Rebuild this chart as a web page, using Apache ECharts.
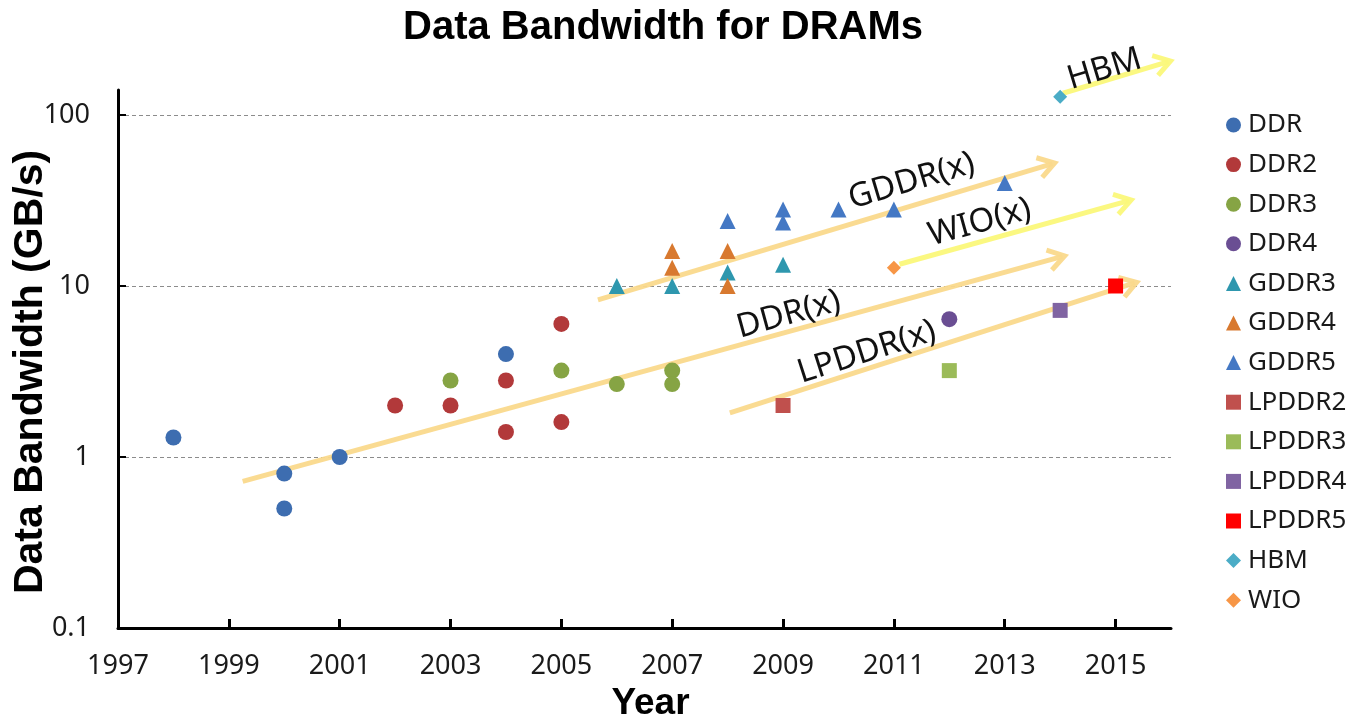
<!DOCTYPE html>
<html>
<head>
<meta charset="utf-8">
<title>Data Bandwidth for DRAMs</title>
<script src="https://cdn.jsdelivr.net/npm/echarts@6/dist/echarts.min.js"></script>
<style>
  html, body { margin: 0; padding: 0; background: #fff; }
  #chart { width: 1361px; height: 723px; }
</style>
</head>
<body>
<div id="chart"></div>
<script>
// Memory generations and their peak data bandwidth (GB/s) by year
const seriesNames = ['DDR', 'DDR2', 'DDR3', 'DDR4', 'GDDR3', 'GDDR4', 'GDDR5',
  'LPDDR2', 'LPDDR3', 'LPDDR4', 'LPDDR5', 'HBM', 'WIO'];

const ddr    = [[1998, 1.3], [2000, 0.8], [2000, 0.5], [2001, 1.0], [2004, 4.0]];
const ddr2   = [[2002, 2.0], [2003, 2.0], [2004, 2.8], [2004, 1.4], [2005, 6.0], [2005, 1.6]];
const ddr3   = [[2003, 2.8], [2005, 3.2], [2006, 2.67], [2007, 3.2], [2007, 2.67]];
const ddr4   = [[2012, 6.4]];
const gddr3  = [[2006, 10], [2007, 10], [2008, 12], [2009, 13.3]];
const gddr4  = [[2007, 16], [2007, 12.8], [2008, 16], [2008, 10]];
const gddr5  = [[2008, 24], [2009, 28], [2009, 23.5], [2010, 28], [2011, 28], [2013, 40]];
const lpddr2 = [[2009, 2.0]];
const lpddr3 = [[2012, 3.2]];
const lpddr4 = [[2014, 7.2]];
const lpddr5 = [[2015, 10]];
const hbm    = [[2014, 128]];
const wio    = [[2011, 12.8]];

// Trend arrows: name, start [year, GB/s], end [year, GB/s], label anchor [year, GB/s]
const trendNames  = ['DDR(x)', 'GDDR(x)', 'WIO(x)', 'LPDDR(x)', 'HBM'];
const trendStart  = [[1999.25, 0.72], [2005.66, 8.3], [2011.1, 13.4], [2008.04, 1.81], [2014.05, 134]];
const trendEnd    = [[2014.08, 15.0], [2013.9, 52.4], [2015.28, 31.8], [2015.38, 10.5], [2015.99, 207]];
const trendLabel  = [[2009.1, 6.8], [2011.32, 41], [2012.55, 23.5], [2010.51, 4.1], [2014.8, 185]];

// Axis tick labels
const xTickYears  = [1997, 1999, 2001, 2003, 2005, 2007, 2009, 2011, 2013, 2015];
const yTickValues = [0.1, 1, 10, 100];

// Appearance
const seriesValues = [ddr, ddr2, ddr3, ddr4, gddr3, gddr4, gddr5, lpddr2, lpddr3, lpddr4, lpddr5, hbm, wio];
const seriesColors = ['#3D6DB0', '#B2393A', '#86A444', '#6A4E93', '#2E97AE', '#D8792F', '#4478C4',
  '#C0504D', '#9BBB59', '#8064A2', '#FF0000', '#4BACC6', '#F79646'];
const seriesSymbols = ['circle', 'circle', 'circle', 'circle', 'triangle', 'triangle', 'triangle',
  'rect', 'rect', 'rect', 'rect', 'diamond', 'diamond'];
const symbolSizes = { circle: 16, triangle: 16, rect: 15, diamond: 14 };
const arrowColors = { 'DDR(x)': '#FAD98C', 'GDDR(x)': '#FAD98C', 'LPDDR(x)': '#FAD98C', 'WIO(x)': '#FBF87A', 'HBM': '#FBF87A' };

const textFont = '"Noto Sans", "Open Sans", sans-serif';
const boldFont = '"Liberation Sans", Arial, sans-serif';

const scatterSeries = seriesNames.map((name, i) => ({
  name,
  type: 'scatter',
  symbol: seriesSymbols[i],
  symbolSize: symbolSizes[seriesSymbols[i]],
  itemStyle: { color: seriesColors[i], opacity: 1 },
  data: seriesValues[i],
  z: 5
}));

const trendData = trendNames.map((n, i) => ({
  name: n,
  value: [trendStart[i][0], trendStart[i][1], trendEnd[i][0], trendEnd[i][1], trendLabel[i][0], trendLabel[i][1]]
}));

const trendSeries = {
  type: 'custom',
  name: 'trends',
  clip: false,
  silent: true,
  z: 2,
  encode: { x: [0, 2, 4], y: [1, 3, 5] },
  data: trendData,
  renderItem(params, api) {
    const name = trendNames[params.dataIndex];
    const color = arrowColors[name];
    const p1 = api.coord([api.value(0), api.value(1)]);
    const p2 = api.coord([api.value(2), api.value(3)]);
    const lp = api.coord([api.value(4), api.value(5)]);
    const ang = Math.atan2(p2[1] - p1[1], p2[0] - p1[0]);
    const head = 19, spread = Math.PI / 5.5;
    const h1 = [p2[0] - head * Math.cos(ang - spread), p2[1] - head * Math.sin(ang - spread)];
    const h2 = [p2[0] - head * Math.cos(ang + spread), p2[1] - head * Math.sin(ang + spread)];
    const tip = [p2[0] - 2 * Math.cos(ang), p2[1] - 2 * Math.sin(ang)];
    return {
      type: 'group',
      children: [
        { type: 'polyline', shape: { points: [p1, tip] },
          style: { stroke: color, lineWidth: 5, fill: null, opacity: 0.95 } },
        { type: 'polyline', shape: { points: [h1, p2, h2] },
          style: { stroke: color, lineWidth: 5, fill: null, lineJoin: 'miter', opacity: 0.95 } },
        { type: 'text', x: lp[0], y: lp[1], rotation: -ang,
          style: { text: name, font: '33px ' + textFont, fill: '#111',
                   align: 'center', verticalAlign: 'middle' } }
      ]
    };
  }
};

const chart = echarts.init(document.getElementById('chart'));
chart.setOption({
  animation: false,
  backgroundColor: '#ffffff',
  title: {
    text: 'Data Bandwidth for DRAMs',
    left: 403,
    top: 8,
    padding: 0,
    textStyle: { fontFamily: boldFont, fontWeight: 'bold', fontSize: 40, color: '#000' }
  },
  legend: {
    orient: 'vertical',
    left: 1221,
    top: 107,
    itemWidth: 15,
    itemHeight: 15,
    itemGap: 13.6,
    data: seriesNames,
    textStyle: { fontFamily: textFont, fontSize: 26, color: '#1a1a1a', lineHeight: 26, padding: [0, 0, 0, 2] }
  },
  grid: { left: 118, right: 190, top: 90, bottom: 95, containLabel: false, outerBoundsMode: 'none' },
  xAxis: {
    type: 'value',
    min: 1997,
    max: 2016,
    interval: 2,
    name: 'Year',
    nameLocation: 'middle',
    nameGap: 57,
    nameMoveOverlap: false,
    nameTextStyle: { fontFamily: boldFont, fontWeight: 'bold', fontSize: 37, color: '#000',
                     padding: [0, 0, 0, 12] },
    axisLine: { show: true, lineStyle: { color: '#000', width: 3 } },
    axisTick: { show: true, inside: true, length: 9, customValues: xTickYears,
                lineStyle: { color: '#000', width: 3 } },
    axisLabel: { customValues: xTickYears, margin: 25,
                 fontFamily: textFont, fontSize: 27, color: '#1a1a1a',
                 formatter: v => (xTickYears.includes(v) ? String(v) : '') },
    splitLine: { show: false }
  },
  yAxis: {
    type: 'log',
    logBase: 10,
    min: 0.1,
    max: 140,
    name: 'Data Bandwidth (GB/s)',
    nameLocation: 'middle',
    nameGap: 67,
    nameMoveOverlap: false,
    nameTextStyle: { fontFamily: boldFont, fontWeight: 'bold', fontSize: 41, color: '#000',
                     padding: [0, 26, 0, 0] },
    axisLine: { show: true, lineStyle: { color: '#000', width: 3 } },
    axisTick: { show: true, inside: true, length: 8, customValues: yTickValues,
                lineStyle: { color: '#000', width: 2 } },
    axisLabel: { customValues: yTickValues, margin: 28,
                 fontFamily: textFont, fontSize: 27, color: '#1a1a1a',
                 formatter: v => {
                   const r = Number(Number(v).toPrecision(3));
                   return yTickValues.includes(r) ? String(r) : '';
                 } },
    splitLine: { show: true, showMinLine: false, showMaxLine: true,
                 lineStyle: { color: '#8c8c8c', width: 1, type: [4, 3] } }
  },
  series: [trendSeries, ...scatterSeries]
});
</script>
</body>
</html>
